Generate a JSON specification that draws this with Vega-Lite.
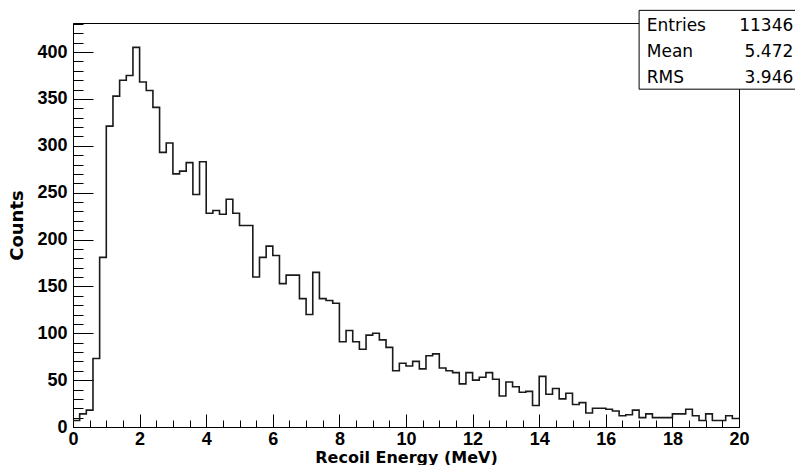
{
  "$schema": "https://vega.github.io/schema/vega-lite/v6.json",
  "width": 666,
  "height": 404,
  "autosize": {"type": "none"},
  "padding": {"left": 73, "top": 23, "right": 56, "bottom": 38},
  "background": "white",
  "config": {
    "view": {"stroke": "black", "strokeWidth": 1},
    "axis": {"grid": false, "domainColor": "black", "domainWidth": 1, "tickColor": "black", "tickWidth": 1, "labelColor": "black", "titleColor": "black", "labelFlush": false, "labelOverlap": false}
  },
  "datasets": {
    "hist": [
      {"e": 0.0, "c": 7}, {"e": 0.2, "c": 14}, {"e": 0.4, "c": 18}, {"e": 0.6, "c": 73}, {"e": 0.8, "c": 181},
      {"e": 1.0, "c": 321}, {"e": 1.2, "c": 353}, {"e": 1.4, "c": 370}, {"e": 1.6, "c": 375}, {"e": 1.8, "c": 405},
      {"e": 2.0, "c": 368}, {"e": 2.2, "c": 359}, {"e": 2.4, "c": 341}, {"e": 2.6, "c": 293}, {"e": 2.8, "c": 303},
      {"e": 3.0, "c": 270}, {"e": 3.2, "c": 273}, {"e": 3.4, "c": 282}, {"e": 3.6, "c": 248}, {"e": 3.8, "c": 283},
      {"e": 4.0, "c": 228}, {"e": 4.2, "c": 231}, {"e": 4.4, "c": 227}, {"e": 4.6, "c": 243}, {"e": 4.8, "c": 228},
      {"e": 5.0, "c": 215}, {"e": 5.2, "c": 215}, {"e": 5.4, "c": 160}, {"e": 5.6, "c": 181}, {"e": 5.8, "c": 193},
      {"e": 6.0, "c": 183}, {"e": 6.2, "c": 153}, {"e": 6.4, "c": 162}, {"e": 6.6, "c": 162}, {"e": 6.8, "c": 137},
      {"e": 7.0, "c": 120}, {"e": 7.2, "c": 165}, {"e": 7.4, "c": 137}, {"e": 7.6, "c": 135}, {"e": 7.8, "c": 132},
      {"e": 8.0, "c": 91}, {"e": 8.2, "c": 103}, {"e": 8.4, "c": 91}, {"e": 8.6, "c": 83}, {"e": 8.8, "c": 98},
      {"e": 9.0, "c": 100}, {"e": 9.2, "c": 93}, {"e": 9.4, "c": 85}, {"e": 9.6, "c": 60}, {"e": 9.8, "c": 68},
      {"e": 10.0, "c": 65}, {"e": 10.2, "c": 70}, {"e": 10.4, "c": 62}, {"e": 10.6, "c": 76}, {"e": 10.8, "c": 78},
      {"e": 11.0, "c": 63}, {"e": 11.2, "c": 60}, {"e": 11.4, "c": 58}, {"e": 11.6, "c": 46}, {"e": 11.8, "c": 58},
      {"e": 12.0, "c": 50}, {"e": 12.2, "c": 53}, {"e": 12.4, "c": 58}, {"e": 12.6, "c": 51}, {"e": 12.8, "c": 33},
      {"e": 13.0, "c": 48}, {"e": 13.2, "c": 43}, {"e": 13.4, "c": 37}, {"e": 13.6, "c": 38}, {"e": 13.8, "c": 23},
      {"e": 14.0, "c": 54}, {"e": 14.2, "c": 35}, {"e": 14.4, "c": 41}, {"e": 14.6, "c": 30}, {"e": 14.8, "c": 36},
      {"e": 15.0, "c": 24}, {"e": 15.2, "c": 26}, {"e": 15.4, "c": 15}, {"e": 15.6, "c": 20}, {"e": 15.8, "c": 20},
      {"e": 16.0, "c": 19}, {"e": 16.2, "c": 17}, {"e": 16.4, "c": 12}, {"e": 16.6, "c": 13}, {"e": 16.8, "c": 18},
      {"e": 17.0, "c": 10}, {"e": 17.2, "c": 14}, {"e": 17.4, "c": 10}, {"e": 17.6, "c": 10}, {"e": 17.8, "c": 10},
      {"e": 18.0, "c": 14}, {"e": 18.2, "c": 14}, {"e": 18.4, "c": 19}, {"e": 18.6, "c": 12}, {"e": 18.8, "c": 7},
      {"e": 19.0, "c": 14}, {"e": 19.2, "c": 7}, {"e": 19.4, "c": 7}, {"e": 19.6, "c": 12}, {"e": 19.8, "c": 9},
      {"e": 20.0, "c": 9}
    ]
  },
  "resolve": {"axis": {"x": "independent", "y": "independent"}},
  "layer": [
    {
      "data": {"name": "hist"},
      "mark": {"type": "line", "opacity": 0},
      "encoding": {
        "x": {"field": "e", "type": "quantitative",
          "scale": {"domain": [0, 20], "nice": false, "zero": false},
          "axis": {"orient": "bottom", "values": [0.5, 1, 1.5, 2.5, 3, 3.5, 4.5, 5, 5.5, 6.5, 7, 7.5, 8.5, 9, 9.5, 10.5, 11, 11.5, 12.5, 13, 13.5, 14.5, 15, 15.5, 16.5, 17, 17.5, 18.5, 19, 19.5], "tickSize": -7, "labels": false, "domain": false, "title": null}},
        "y": {"field": "c", "type": "quantitative",
          "scale": {"domain": [0, 431], "nice": false, "zero": true},
          "axis": {"orient": "left", "values": [10, 20, 30, 40, 60, 70, 80, 90, 110, 120, 130, 140, 160, 170, 180, 190, 210, 220, 230, 240, 260, 270, 280, 290, 310, 320, 330, 340, 360, 370, 380, 390, 410, 420, 430], "tickSize": -10, "labels": false, "domain": false, "title": null}}
      }
    },
    {
      "data": {"name": "hist"},
      "mark": {"type": "line", "interpolate": "step-after", "color": "#1a1a1a", "strokeWidth": 1.6},
      "encoding": {
        "x": {"field": "e", "type": "quantitative",
          "axis": {"orient": "bottom", "values": [0, 2, 4, 6, 8, 10, 12, 14, 16, 18, 20], "tickSize": -13, "labelFont": "Liberation Sans", "labelFontWeight": "bold", "labelFontSize": 18, "labelPadding": 16, "title": "Recoil Energy (MeV)", "titleFont": "DejaVu Sans", "titleFontWeight": "bold", "titleFontSize": 16, "titlePadding": 1}},
        "y": {"field": "c", "type": "quantitative",
          "axis": {"orient": "left", "values": [0, 50, 100, 150, 200, 250, 300, 350, 400], "tickSize": -20, "labelFont": "Liberation Sans", "labelFontWeight": "bold", "labelFontSize": 18, "labelPadding": 26, "title": "Counts", "titleFont": "DejaVu Sans", "titleFontWeight": "bold", "titleFontSize": 18, "titlePadding": 10}}
      }
    },
    {
      "data": {"values": [{"box": "stats"}]},
      "mark": {"type": "rect", "fill": "white", "stroke": "black", "strokeWidth": 1},
      "encoding": {
        "x": {"datum": 17.0, "type": "quantitative", "axis": null},
        "x2": {"datum": 21.8},
        "y": {"datum": 444.5, "type": "quantitative", "axis": null},
        "y2": {"datum": 360.4}
      }
    },
    {
      "data": {"values": [{"label": "Entries", "value": "11346"}]},
      "layer": [
        {"mark": {"type": "text", "align": "left", "baseline": "alphabetic", "font": "DejaVu Sans", "fontSize": 17, "color": "black"},
         "encoding": {"x": {"datum": 17.23, "type": "quantitative", "axis": null}, "y": {"datum": 422.6, "type": "quantitative", "axis": null}, "text": {"field": "label"}}},
        {"mark": {"type": "text", "align": "right", "baseline": "alphabetic", "font": "DejaVu Sans", "fontSize": 17, "color": "black"},
         "encoding": {"x": {"datum": 21.63, "type": "quantitative", "axis": null}, "y": {"datum": 422.6, "type": "quantitative", "axis": null}, "text": {"field": "value"}}}
      ]
    },
    {
      "data": {"values": [{"label": "Mean", "value": "5.472"}]},
      "layer": [
        {"mark": {"type": "text", "align": "left", "baseline": "alphabetic", "font": "DejaVu Sans", "fontSize": 17, "color": "black"},
         "encoding": {"x": {"datum": 17.23, "type": "quantitative", "axis": null}, "y": {"datum": 394.2, "type": "quantitative", "axis": null}, "text": {"field": "label"}}},
        {"mark": {"type": "text", "align": "right", "baseline": "alphabetic", "font": "DejaVu Sans", "fontSize": 17, "color": "black"},
         "encoding": {"x": {"datum": 21.63, "type": "quantitative", "axis": null}, "y": {"datum": 394.2, "type": "quantitative", "axis": null}, "text": {"field": "value"}}}
      ]
    },
    {
      "data": {"values": [{"label": "RMS", "value": "3.946"}]},
      "layer": [
        {"mark": {"type": "text", "align": "left", "baseline": "alphabetic", "font": "DejaVu Sans", "fontSize": 17, "color": "black"},
         "encoding": {"x": {"datum": 17.23, "type": "quantitative", "axis": null}, "y": {"datum": 366.5, "type": "quantitative", "axis": null}, "text": {"field": "label"}}},
        {"mark": {"type": "text", "align": "right", "baseline": "alphabetic", "font": "DejaVu Sans", "fontSize": 17, "color": "black"},
         "encoding": {"x": {"datum": 21.63, "type": "quantitative", "axis": null}, "y": {"datum": 366.5, "type": "quantitative", "axis": null}, "text": {"field": "value"}}}
      ]
    }
  ]
}
